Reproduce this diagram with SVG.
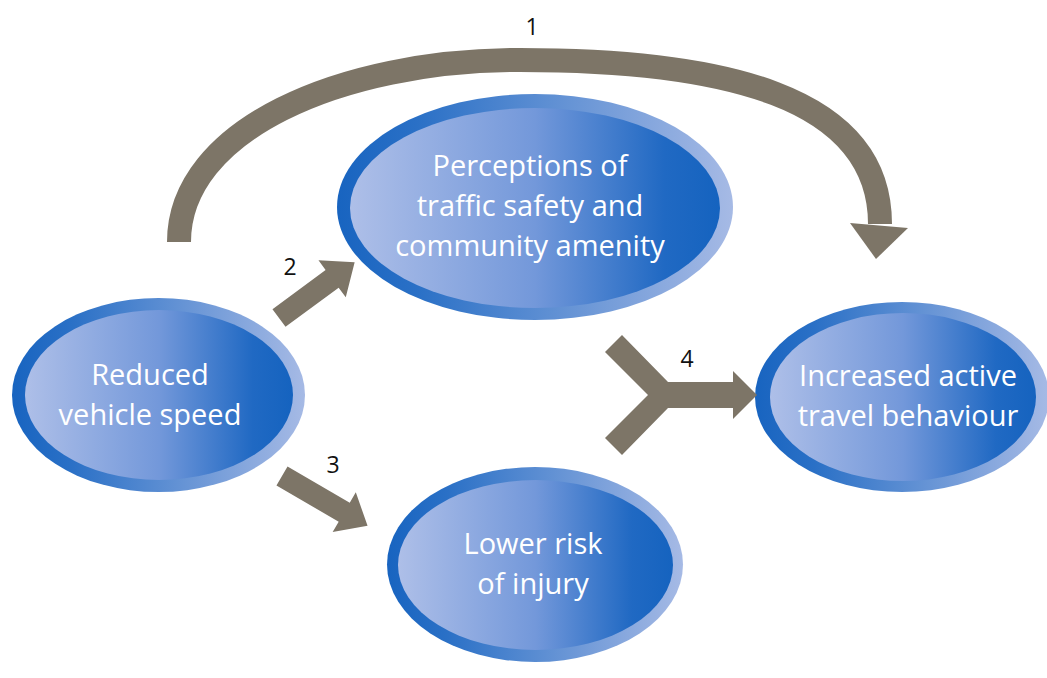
<svg xmlns="http://www.w3.org/2000/svg" width="1047" height="678" viewBox="0 0 1047 678">
  <defs>
    <linearGradient id="gOuter" x1="0" y1="0" x2="1" y2="0">
      <stop offset="0" stop-color="#1864c0"/>
      <stop offset="0.2" stop-color="#2a70c6"/>
      <stop offset="1" stop-color="#a6bae5"/>
    </linearGradient>
    <linearGradient id="gInner" x1="0" y1="0" x2="1" y2="0">
      <stop offset="0" stop-color="#aebfe8"/>
      <stop offset="0.5" stop-color="#7398da"/>
      <stop offset="0.85" stop-color="#2069c3"/>
      <stop offset="1" stop-color="#1563bf"/>
    </linearGradient>
    <style>
      .outer { fill: url(#gOuter); }
      .inner { fill: url(#gInner); }
      .lbl { font-family: "Open Sans", "Noto Sans", sans-serif; font-size: 29px; fill: #ffffff; text-anchor: middle; }
      .num { font-family: "Open Sans", "Noto Sans", sans-serif; font-size: 23px; fill: #111111; text-anchor: middle; }
      .arr { fill: #7d7567; }
      .arc { fill: none; stroke: #7d7567; stroke-width: 24; }
    </style>
  </defs>
  <rect width="1047" height="678" fill="#ffffff"/>

  <g id="node-reduced">
    <ellipse class="outer" cx="158.5" cy="395" rx="146.5" ry="97"/>
    <ellipse class="inner" cx="159" cy="395" rx="134" ry="85"/>
    <text class="lbl" x="150" y="385">Reduced</text>
    <text class="lbl" x="150" y="425">vehicle speed</text>
  </g>

  <g id="node-perceptions">
    <ellipse class="outer" cx="535" cy="207" rx="198" ry="113"/>
    <ellipse class="inner" cx="535" cy="208" rx="185" ry="100"/>
    <text class="lbl" x="530" y="176">Perceptions of</text>
    <text class="lbl" x="530" y="216">traffic safety and</text>
    <text class="lbl" x="530" y="256">community amenity</text>
  </g>

  <g id="node-increased">
    <ellipse class="outer" cx="902" cy="397" rx="147" ry="95"/>
    <ellipse class="inner" cx="903" cy="397" rx="133" ry="84"/>
    <text class="lbl" x="908" y="385.5">Increased active</text>
    <text class="lbl" x="908" y="425.5">travel behaviour</text>
  </g>

  <g id="node-lower">
    <ellipse class="outer" cx="535" cy="564.5" rx="148" ry="97.5"/>
    <ellipse class="inner" cx="535.5" cy="565" rx="137.5" ry="85"/>
    <text class="lbl" x="533" y="553.5">Lower risk</text>
    <text class="lbl" x="533" y="593.5">of injury</text>
  </g>

  <g id="connectors">
    <g id="arrow-1">
      <path class="arc" d="M179,242 C179,130 340,60 520,60 C720,60 880,95 880,224"/>
      <polygon class="arr" points="850,223 908,228 876,259"/>
      <text class="num" x="532" y="35">1</text>
    </g>
    <g id="arrow-2">
      <polygon class="arr" transform="translate(279,318) rotate(-36.4)" points="0,-11 66,-11 66,-23 94,0 66,23 66,11 0,11"/>
      <text class="num" x="290" y="275">2</text>
    </g>
    <g id="arrow-3">
      <polygon class="arr" transform="translate(282,476) rotate(30.2)" points="0,-11 72,-11 72,-23 99,0 72,23 72,11 0,11"/>
      <text class="num" x="333" y="473">3</text>
    </g>
    <g id="arrow-4">
      <polygon class="arr" points="622,335 668,382 733,382 733,371 757,395 733,419 733,408 668,408 622,455 605,438 648,395 605,352"/>
      <text class="num" x="687" y="367">4</text>
    </g>
  </g>
</svg>
